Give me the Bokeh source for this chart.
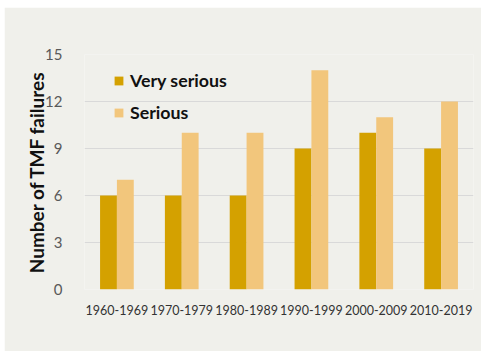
from bokeh.plotting import figure
from bokeh.models import FactorRange, Range1d, Legend, LegendItem, FixedTicker
from bokeh.transform import dodge
from bokeh.embed import file_html
from bokeh.resources import INLINE
from bokeh.models import ColumnDataSource

# Tailings/TMF failures by decade
decades = ["1960-1969", "1970-1979", "1980-1989", "1990-1999", "2000-2009", "2010-2019"]
very_serious = [6, 6, 6, 9, 10, 9]
serious = [7, 10, 10, 14, 11, 12]
y_ticks = [0, 3, 6, 9, 12, 15]

DARK = "#D4A100"
LIGHT = "#F2C67C"
BG = "#F0F0EB"
FONT = "Lato"

source = ColumnDataSource(dict(decade=decades, very=very_serious, serious=serious))

p = figure(
    x_range=FactorRange(factors=decades, range_padding=0),
    y_range=Range1d(0, 15),
    width=477, height=344,
    margin=(7, 0, 0, 4),
    output_backend="svg", toolbar_location=None,
    min_border_left=80, min_border_right=8,
    min_border_top=47, min_border_bottom=62,
)
p.background_fill_color = BG
p.border_fill_color = BG
p.outline_line_color = None

bw = 0.26
r1 = p.vbar(x=dodge("decade", -bw / 2, range=p.x_range), top="very", width=bw,
            source=source, fill_color=DARK, line_color=None)
r2 = p.vbar(x=dodge("decade", bw / 2, range=p.x_range), top="serious", width=bw,
            source=source, fill_color=LIGHT, line_color=None)

# axes
p.xgrid.grid_line_color = None
p.ygrid.grid_line_color = "#D9D9D9"
p.ygrid.grid_line_width = 1
p.yaxis.ticker = FixedTicker(ticks=y_ticks)
for ax in (p.xaxis[0], p.yaxis[0]):
    ax.axis_line_color = None
    ax.major_tick_line_color = None
    ax.minor_tick_line_color = None
    ax.major_label_text_font = FONT

p.xaxis.major_label_text_font_size = "12.5px"
p.xaxis.major_label_text_color = "#333333"
p.xaxis.major_label_standoff = 9

p.yaxis.major_label_text_font_size = "15px"
p.yaxis.major_label_text_color = "#595959"
p.yaxis.major_label_standoff = 16
p.yaxis.axis_label = "Number of TMF failures"
p.yaxis.axis_label_text_font = FONT
p.yaxis.axis_label_text_font_style = "bold"
p.yaxis.axis_label_text_font_size = "19px"
p.yaxis.axis_label_text_color = "#111111"
p.yaxis.axis_label_standoff = -6

legend = Legend(
    items=[LegendItem(label="Very serious", renderers=[r1]),
           LegendItem(label="Serious", renderers=[r2])],
    location=(29, 166),
    background_fill_alpha=0, border_line_color=None,
    padding=0, margin=0, spacing=10,
    glyph_width=11, glyph_height=11, label_height=20,
    label_standoff=6,
    label_text_font=FONT, label_text_font_style="bold",
    label_text_font_size="17.8px", label_text_color="#111111",
)
p.add_layout(legend, "center")

open("out.html", "w").write(file_html(p, INLINE))
